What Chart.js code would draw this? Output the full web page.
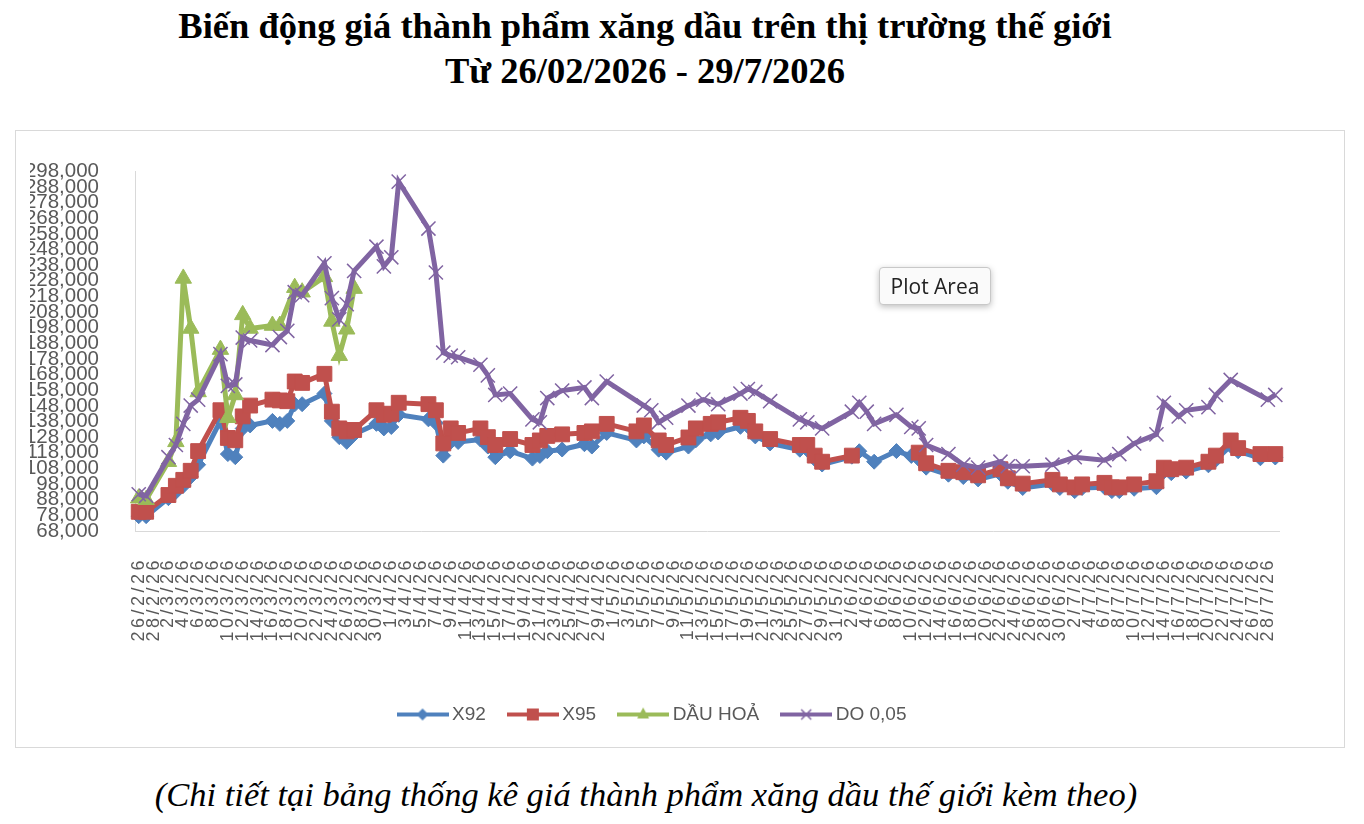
<!DOCTYPE html>
<html>
<head>
<meta charset="utf-8">
<script src="https://cdn.jsdelivr.net/npm/chart.js@4.4.1/dist/chart.umd.min.js"></script>
<style>
  body { margin: 0; background: #fff; width: 1364px; height: 824px; position: relative; overflow: hidden; }
  .title { position: absolute; left: 0; top: 3px; width: 1290px; text-align: center;
           font: bold 36.5px/45px "Liberation Serif", "Times New Roman", serif; color: #000; }
  .box { position: absolute; left: 15px; top: 130px; width: 1330px; height: 618px;
         box-sizing: border-box; border: 1px solid #d9d9d9; }
  .caption { position: absolute; left: 0; top: 774px; width: 1292px; text-align: center;
             font: italic 34.5px/40px "Liberation Serif", "Times New Roman", serif; color: #000; }
  .tip { position: absolute; left: 879px; top: 267px; width: 112px; height: 38px; box-sizing: border-box;
         border: 1px solid #c8c8c8; border-radius: 4px; background: #fafafa;
         box-shadow: 0 2px 6px rgba(0,0,0,0.25);
         font: 21px/36px "Open Sans", sans-serif; color: #222; text-align: center; }
</style>
</head>
<body>
<div class="title">Biến động giá thành phẩm xăng dầu trên thị trường thế giới<br>Từ 26/02/2026 - 29/7/2026</div>
<div class="box"><canvas id="priceChart" width="1328" height="616"></canvas></div>
<div class="tip">Plot Area</div>
<div class="caption">(Chi tiết tại bảng thống kê giá thành phẩm xăng dầu thế giới kèm theo)</div>
<script>
// trading days with a price (d/m/yy)
const dates = ['26/2/26','27/2/26','2/3/26','3/3/26','4/3/26','5/3/26','6/3/26','9/3/26','10/3/26','11/3/26',
  '12/3/26','13/3/26','16/3/26','17/3/26','18/3/26','19/3/26','20/3/26','23/3/26','24/3/26','25/3/26',
  '26/3/26','27/3/26','30/3/26','31/3/26','1/4/26','2/4/26','6/4/26','7/4/26','8/4/26','9/4/26',
  '10/4/26','13/4/26','14/4/26','15/4/26','17/4/26','20/4/26','21/4/26','22/4/26','24/4/26','27/4/26',
  '28/4/26','30/4/26','4/5/26','5/5/26','6/5/26','7/5/26','8/5/26','11/5/26','12/5/26','13/5/26',
  '14/5/26','15/5/26','18/5/26','19/5/26','20/5/26','22/5/26','26/5/26','27/5/26','28/5/26','29/5/26',
  '2/6/26','3/6/26','4/6/26','5/6/26','8/6/26','10/6/26','11/6/26','12/6/26','15/6/26','17/6/26',
  '19/6/26','22/6/26','23/6/26','25/6/26','29/6/26','30/6/26','2/7/26','3/7/26','6/7/26','7/7/26',
  '8/7/26','10/7/26','13/7/26','14/7/26','15/7/26','16/7/26','17/7/26','20/7/26','21/7/26','23/7/26',
  '24/7/26','27/7/26','28/7/26','29/7/26'];

const x92 = [77500,77500,89000,93000,96900,102700,110400,138400,117200,115200,
  133600,135500,138400,136500,138400,149000,149100,155900,138400,128000,
  125000,129800,136500,133600,134500,142300,139400,137000,116200,125000,
  124900,126500,122000,115200,119000,114300,116000,119000,120100,123500,
  122000,130700,125900,128500,null,120000,118100,122000,126000,null,
  129800,131000,134600,135000,128500,124000,120000,120000,114000,110500,
  115500,119000,null,112300,119100,116000,114000,108500,104000,102500,
  101000,104500,99500,95500,98000,95500,93500,95500,96000,93500,
  93500,95000,96000,106000,105000,null,106000,110000,113500,122500,
  119000,114500,null,115000];

const x95 = [80300,80300,91000,96900,100700,106500,119100,145200,127500,126000,
  141300,148200,152000,151500,151000,163600,162700,168500,144300,133600,
  131700,132600,145200,142300,143000,150000,149100,145200,124000,133600,
  130700,133600,128000,123000,126800,123000,125900,128800,129800,130700,
  131700,136500,131700,135500,null,125900,123000,127800,133600,null,
  136500,137500,140400,138400,131700,126800,123000,123000,116200,112300,
  116200,null,null,null,null,null,118100,111300,106500,105600,
  103600,107500,101700,98300,100700,97800,95900,97800,98800,95900,
  95900,97800,99800,108500,107500,null,108500,112300,116200,125900,
  121000,117200,null,117200];

const dauHoa = [89000,88000,112300,125000,229500,197500,156900,184000,140400,155000,
  206200,197500,199400,199400,null,223600,220700,230500,202000,180100,
  197000,223000];

const do005 = [91500,90500,115200,123000,136500,148200,152000,181100,160800,161700,
  191700,189800,186900,192000,196000,220700,218800,239200,216900,203300,
  213000,234300,249800,237200,243000,291400,261400,233300,182000,180100,
  179100,174300,167500,155000,155900,139400,137500,153000,157800,159800,
  153000,163600,null,148200,145200,137500,140400,148200,null,152000,
  null,149100,155900,158800,156900,151000,139400,137500,null,133600,
  144300,150000,144300,136500,142300,134600,133600,123000,117200,110400,
  108500,112300,109400,109400,110400,null,115200,null,113300,null,
  117200,124000,129800,150000,null,141300,145200,147200,155000,164600,
  null,null,152000,155000];

const seriesNames = ['X92', 'X95', 'DẦU HOẢ', 'DO 0,05'];
const seriesColors = ['#4F81BD', '#C0504D', '#9BBB59', '#8064A2'];

// every calendar day on the date axis, labels shown every second day
const allDays = [];
for (let d = new Date(2026, 1, 26); d <= new Date(2026, 6, 29); d.setDate(d.getDate() + 1)) {
  allDays.push(d.getDate() + '/' + (d.getMonth() + 1) + '/26');
}

function points(values) {
  return dates.map((d, i) => ({ x: d, y: values[i] === undefined ? null : values[i] }))
              .filter(p => p.y !== null);
}

function legendIcon(color, kind) {
  const c = document.createElement('canvas');
  c.width = 52; c.height = 18;
  const g = c.getContext('2d');
  g.strokeStyle = color; g.fillStyle = color; g.lineWidth = 4;
  g.beginPath(); g.moveTo(0, 9); g.lineTo(52, 9); g.stroke();
  g.beginPath();
  if (kind === 'diamond') { g.moveTo(26, 3); g.lineTo(32, 9); g.lineTo(26, 15); g.lineTo(20, 9); g.fill(); }
  if (kind === 'square') { g.fillRect(20, 3, 12, 12); }
  if (kind === 'triangle') { g.moveTo(26, 2); g.lineTo(32, 13); g.lineTo(20, 13); g.fill(); }
  if (kind === 'cross') { g.lineWidth = 1.5; g.moveTo(21, 4); g.lineTo(31, 14); g.moveTo(31, 4); g.lineTo(21, 14); g.stroke(); }
  return c;
}
const legendIcons = [legendIcon(seriesColors[0], 'diamond'), legendIcon(seriesColors[1], 'square'),
                     legendIcon(seriesColors[2], 'triangle'), legendIcon(seriesColors[3], 'cross')];

// wider spacing for the rotated date labels
const spacedDateLabels = {
  id: 'spacedDateLabels',
  beforeDraw(chart) {
    const s = chart.scales.x;
    if (s && !s._spaced) {
      const orig = s.drawLabels.bind(s);
      s.drawLabels = function (area) {
        this.ctx.save();
        this.ctx.letterSpacing = '3.5px';
        orig(area);
        this.ctx.restore();
      };
      s._spaced = true;
    }
  }
};

const base = { borderWidth: 5, tension: 0, spanGaps: 6, pointBorderWidth: 1 };

new Chart(document.getElementById('priceChart'), {
  type: 'line',
  data: {
    labels: allDays,
    datasets: [
      Object.assign({ label: seriesNames[0], data: points(x92), borderColor: seriesColors[0],
        backgroundColor: seriesColors[0], pointStyle: 'rectRot', pointRadius: 7.5, order: 3 }, base),
      Object.assign({ label: seriesNames[1], data: points(x95), borderColor: seriesColors[1],
        backgroundColor: seriesColors[1], pointStyle: 'rect', pointRadius: 10.5, order: 2 }, base),
      Object.assign({ label: seriesNames[2], data: points(dauHoa), borderColor: seriesColors[2],
        backgroundColor: seriesColors[2], pointStyle: 'triangle', pointRadius: 9.5, order: 1 }, base),
      Object.assign({ label: seriesNames[3], data: points(do005), borderColor: seriesColors[3],
        backgroundColor: seriesColors[3], pointStyle: 'crossRot', pointRadius: 10, order: 0 }, base, { pointBorderWidth: 1.5 })
    ]
  },
  options: {
    responsive: false,
    animation: false,
    devicePixelRatio: 1,
    layout: { padding: { left: 14, top: 16, right: 65, bottom: 13 } },
    scales: {
      x: {
        type: 'category',
        offset: true,
        grid: { display: false },
        border: { display: true, color: '#d9d9d9', width: 1 },
        afterFit: (scale) => { scale.height = 147; },
        ticks: {
          autoSkip: false, minRotation: 90, maxRotation: 90, padding: 18,
          color: '#595959', font: { family: '"Liberation Sans", Arial, sans-serif', size: 18 },
          callback: function (val, idx) { return idx % 2 === 0 ? this.getLabelForValue(val) : ''; }
        }
      },
      y: {
        min: 68000,
        max: 298000,
        grid: { display: false },
        border: { display: true, color: '#d9d9d9', width: 1 },
        afterFit: (scale) => { scale.width = 105; },
        ticks: {
          stepSize: 10000, autoSkip: false, padding: 28,
          color: '#595959', font: { family: '"Liberation Sans", Arial, sans-serif', size: 20.5 },
          callback: (v) => v.toLocaleString('en-US')
        }
      }
    },
    plugins: {
      legend: {
        position: 'bottom',
        labels: {
          usePointStyle: true,
          pointStyleWidth: 40,
          padding: 27,
          color: '#595959',
          font: { family: '"Liberation Sans", Arial, sans-serif', size: 19 },
          sort: (a, b) => a.datasetIndex - b.datasetIndex,
          generateLabels: (chart) => Chart.defaults.plugins.legend.labels.generateLabels(chart)
            .map(item => Object.assign(item, { pointStyle: legendIcons[item.datasetIndex] }))
        }
      },
      tooltip: { enabled: false }
    }
  },
  plugins: [spacedDateLabels]
});
</script>
</body>
</html>
